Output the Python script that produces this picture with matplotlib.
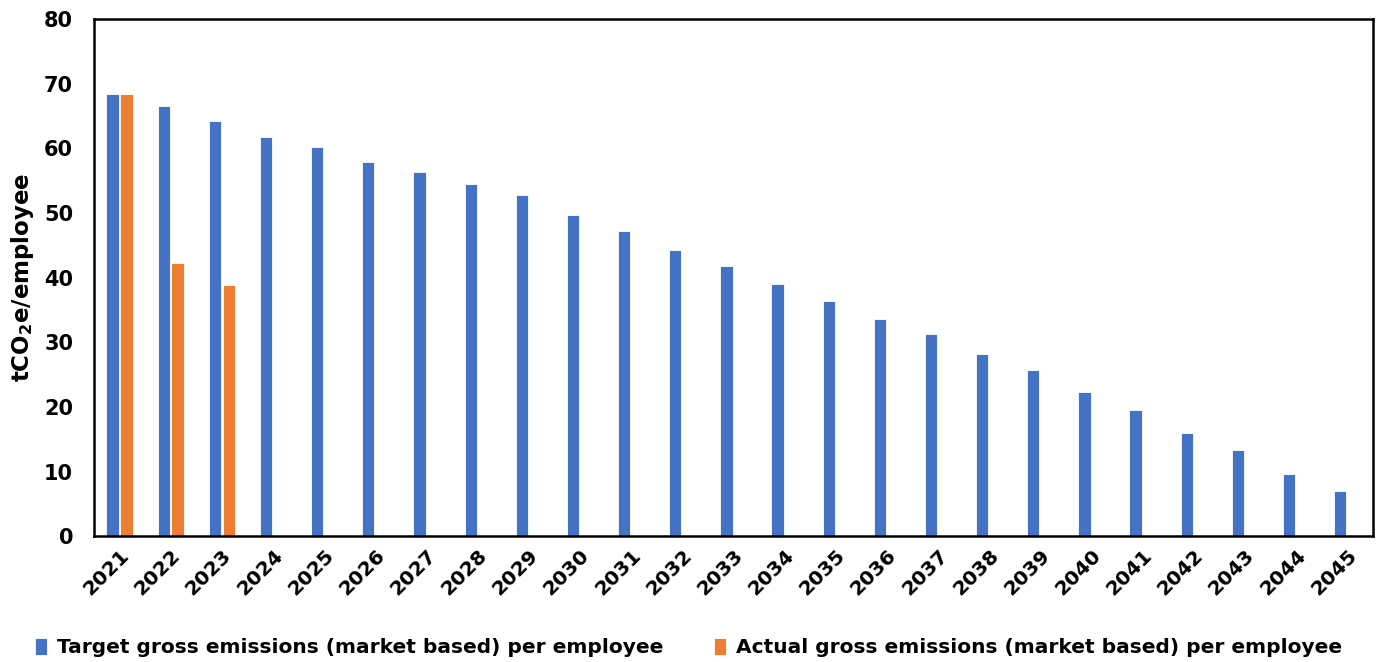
import numpy as np
import matplotlib
matplotlib.use("Agg")
import matplotlib.pyplot as plt

years = [str(y) for y in range(2021, 2046)]
target = [68.5, 66.5, 64.2, 61.7, 60.2, 57.9, 56.3, 54.5, 52.8, 49.7,
          47.3, 44.3, 41.8, 39.0, 36.4, 33.6, 31.3, 28.2, 25.7, 22.3,
          19.5, 15.9, 13.3, 9.7, 7.0]
actual_years = ["2021", "2022", "2023"]
actual = [68.5, 42.2, 38.8]

plt.rcParams["font.family"] = ["DejaVu Sans"]
plt.rcParams["font.weight"] = "bold"

fig = plt.figure(figsize=(13.81, 6.62), dpi=100)
ax = fig.add_axes([0.068, 0.190, 0.926, 0.781])

x = np.arange(len(years))
w = 0.24
off = 0.135
ax.bar(x - off, target, width=w, color="#4472C4", edgecolor="white",
       linewidth=0.6, label="Target gross emissions (market based) per employee")
xa = np.array([years.index(y) for y in actual_years])
ax.bar(xa + off, actual, width=w, color="#ED7D31", edgecolor="white",
       linewidth=0.6, label="Actual gross emissions (market based) per employee")

ax.set_xlim(-0.5, len(years) - 0.5)
ax.set_ylim(0, 80)
ax.set_yticks(range(0, 81, 10))
ax.set_xticks(x)
ax.set_xticklabels(years, rotation=45, ha="right", va="top",
                   rotation_mode="anchor", fontsize=14.5, fontweight="bold")
ax.tick_params(axis="y", labelsize=15, length=0, pad=15)
ax.tick_params(axis="x", length=0, pad=7)
for lab in ax.get_yticklabels():
    lab.set_fontweight("bold")
for s in ax.spines.values():
    s.set_linewidth(1.8)
    s.set_color("black")

ax.set_ylabel(r"tCO$_\mathbf{2}$e/employee", fontsize=16.5, fontweight="bold",
              va="center")
ax.yaxis.set_label_coords(-0.056, 0.5)

fig.legend(loc="lower left", bbox_to_anchor=(0.012, -0.02), ncol=2,
           frameon=False, handlelength=0.6, handleheight=0.95,
           handletextpad=0.5, columnspacing=2.5,
           prop={"weight": "bold", "size": 14.5})

fig.savefig("out.png", dpi=100)
